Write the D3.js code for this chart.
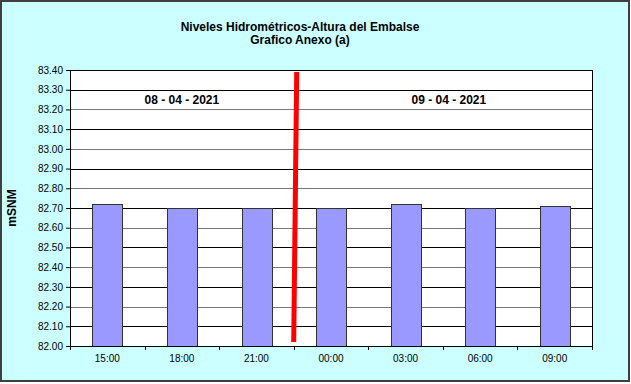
<!DOCTYPE html>
<html>
<head>
<meta charset="utf-8">
<script src="https://cdn.jsdelivr.net/npm/d3@7"></script>
<style>
  body { margin: 0; background: #fff; }
  svg { display: block; font-family: Arial, "Liberation Sans", sans-serif; }
</style>
</head>
<body>
<svg id="chart" width="631" height="384"></svg>
<script>
// data
const horas = ["15:00", "18:00", "21:00", "00:00", "03:00", "06:00", "09:00"];
const alturas = [82.72, 82.70, 82.70, 82.70, 82.72, 82.70, 82.71];
const fechas = ["08 - 04 - 2021", "09 - 04 - 2021"];
const yTicks = [82.0, 82.1, 82.2, 82.3, 82.4, 82.5, 82.6, 82.7, 82.8, 82.9, 83.0, 83.1, 83.2, 83.3, 83.4];
const titulos = ["Niveles Hidrométricos-Altura del Embalse", "Grafico Anexo (a)"];

const svg = d3.select("#chart");
const margin = {left: 70, right: 39, top: 70, bottom: 38};
const W = 631, H = 384;
const plotW = W - margin.left - margin.right;
const plotH = H - margin.top - margin.bottom;

// frame
svg.append("rect")
  .attr("x", 1).attr("y", 1)
  .attr("width", W - 3).attr("height", H - 4)
  .attr("fill", "#ccffff")
  .attr("stroke", "#3f3f3f")
  .attr("stroke-width", 2);

const x = d3.scaleBand().domain(horas).range([0, plotW]).paddingInner(0).paddingOuter(0);
const y = d3.scaleLinear().domain([82.0, 83.4]).range([plotH, 0]);

const g = svg.append("g").attr("transform", "translate(" + margin.left + "," + margin.top + ")");

g.append("rect")
  .attr("width", plotW).attr("height", plotH)
  .attr("fill", "#ffffff");

// gridlines
g.append("g")
  .selectAll("line")
  .data(yTicks.slice(1, -1))
  .enter()
  .append("line")
  .attr("x1", 0).attr("x2", plotW)
  .attr("y1", d => Math.round(y(d)) + 0.5)
  .attr("y2", d => Math.round(y(d)) + 0.5)
  .attr("stroke", (d, i) => i % 2 === 0 ? "#000000" : "#777777")
  .attr("stroke-width", 1);

// bars
const barW = x.bandwidth() * 0.4;
g.append("g")
  .selectAll("rect")
  .data(alturas)
  .enter()
  .append("rect")
  .attr("x", (d, i) => Math.round(x(horas[i]) + (x.bandwidth() - barW) / 2) + 0.5)
  .attr("y", d => Math.round(y(d)) + 0.5)
  .attr("width", Math.round(barW))
  .attr("height", d => plotH - Math.round(y(d)))
  .attr("fill", "#9999ff")
  .attr("stroke", "#333333")
  .attr("stroke-width", 1);

// plot border
g.append("rect")
  .attr("x", 0.5).attr("y", 0.5)
  .attr("width", plotW).attr("height", plotH)
  .attr("fill", "none")
  .attr("stroke", "#000000")
  .attr("stroke-width", 1);

// axes
const yAxis = g.append("g")
  .call(d3.axisLeft(y).tickValues(yTicks).tickFormat(d3.format(".2f")).tickSize(4).tickPadding(3));
yAxis.select(".domain").remove();
yAxis.selectAll("line").attr("stroke", "#000");
yAxis.selectAll("text").attr("font-size", 10).attr("fill", "#000");

const xTickScale = d3.scaleLinear().domain([0, horas.length]).range([0, plotW]);
const xAxisG = g.append("g").attr("transform", "translate(0," + plotH + ")");
xAxisG.selectAll("line")
  .data(d3.range(horas.length + 1))
  .enter()
  .append("line")
  .attr("x1", d => Math.round(xTickScale(d)) + 0.5)
  .attr("x2", d => Math.round(xTickScale(d)) + 0.5)
  .attr("y1", 0).attr("y2", 4)
  .attr("stroke", "#000");
xAxisG.selectAll("text")
  .data(horas)
  .enter()
  .append("text")
  .attr("x", d => x(d) + x.bandwidth() / 2)
  .attr("y", 16)
  .attr("text-anchor", "middle")
  .attr("font-size", 10)
  .text(d => d);

// red separator between days
const sepX = x("00:00");
g.append("line")
  .attr("x1", sepX + 3).attr("y1", y(83.39))
  .attr("x2", sepX).attr("y2", y(82.02))
  .attr("stroke", "#ff0000")
  .attr("stroke-width", 5);

// date labels
const fechaX = [x("18:00") + x.bandwidth() / 2, x("06:00") + 6];
g.selectAll(".fecha")
  .data(fechas)
  .enter()
  .append("text")
  .attr("class", "fecha")
  .attr("x", (d, i) => fechaX[i])
  .attr("y", y(83.2) - 5.5)
  .attr("text-anchor", "middle")
  .attr("font-size", 12)
  .attr("font-weight", "bold")
  .text(d => d);

// titles
svg.selectAll(".titulo")
  .data(titulos)
  .enter()
  .append("text")
  .attr("class", "titulo")
  .attr("x", 300)
  .attr("y", (d, i) => 31 + i * 12.5)
  .attr("text-anchor", "middle")
  .attr("font-size", 12)
  .attr("font-weight", "bold")
  .text(d => d);

// y label
svg.append("text")
  .attr("transform", "translate(16,208) rotate(-90)")
  .attr("text-anchor", "middle")
  .attr("font-size", 12)
  .attr("font-weight", "bold")
  .text("mSNM");
</script>
</body>
</html>
